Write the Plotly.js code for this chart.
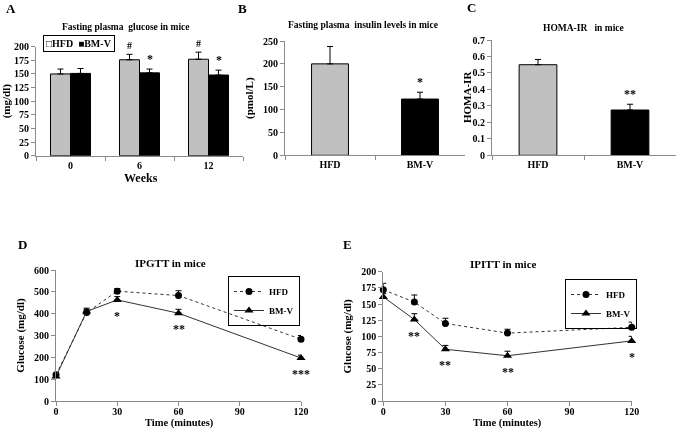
<!DOCTYPE html>
<html>
<head>
<meta charset="utf-8">
<script src="https://cdn.plot.ly/plotly-3.0.1.min.js"></script>
<style>html,body{margin:0;padding:0;background:#fff;}#chart{width:685px;height:431px;will-change:transform;}</style>
</head>
<body>
<div id="chart"></div>
<script>
// ---- Data ----
const weeks = ['0', '6', '12'];
const glucoseHFD = [150, 176, 177];
const glucoseHFDErr = [9, 10, 13];
const glucoseBMV = [151, 152, 148];
const glucoseBMVErr = [9, 7, 9];
const sigGlucoseHFD = ['', '#', '#'];
const sigGlucoseBMV = ['', '*', '*'];

const groups = ['HFD', 'BM-V'];
const insulin = [200, 123];
const insulinErr = [38, 15];
const sigInsulin = ['', '*'];

const homa = [0.55, 0.275];
const homaErr = [0.032, 0.035];
const sigHoma = ['', '**'];

const timeMin = [0, 15, 30, 60, 120];
const ipgttHFD = [120, 405, 503, 483, 283];
const ipgttHFDErr = [10, 15, 12, 22, 17];
const ipgttBMV = [112, 410, 463, 402, 197];
const ipgttBMVErr = [10, 15, 15, 18, 13];
const sigIpgtt = ['', '', '*', '**', '***'];

const ipittHFD = [172, 153, 120, 105, 114];
const ipittHFDErr = [10, 11, 8, 6, 8];
const ipittBMV = [161, 126, 80, 70, 93];
const ipittBMVErr = [5, 9, 6, 7, 7];
const sigIpitt = ['', '**', '**', '**', '*'];

// ---- Helpers ----
const W = 685, H = 431;
const px = x => x / W;
const py = y => 1 - y / H;
const SERIF = 'Liberation Serif, Times New Roman, serif';
const f = (size) => ({family: SERIF, size: size, weight: 'bold', color: '#000'});
const AXC = '#8a8a8a';
const zeros = a => a.map(() => 0);

function errY(arr) {
  return {type: 'data', symmetric: false, array: arr, arrayminus: zeros(arr), color: '#000', thickness: 1, width: 3};
}

const traces = [
  // A
  {type: 'bar', x: weeks, y: glucoseHFD, name: 'HFD', xaxis: 'x', yaxis: 'y', showlegend: false,
   marker: {color: '#c0c0c0', line: {color: '#000', width: 1}}, error_y: errY(glucoseHFDErr)},
  {type: 'bar', x: weeks, y: glucoseBMV, name: 'BM-V', xaxis: 'x', yaxis: 'y', showlegend: false,
   marker: {color: '#000', line: {color: '#000', width: 1}}, error_y: errY(glucoseBMVErr)},
  // B
  {type: 'bar', x: groups, y: insulin, xaxis: 'x2', yaxis: 'y2', showlegend: false, width: 0.41,
   marker: {color: ['#c0c0c0', '#000'], line: {color: '#000', width: 1}}, error_y: errY(insulinErr)},
  // C
  {type: 'bar', x: groups, y: homa, xaxis: 'x3', yaxis: 'y3', showlegend: false, width: 0.41,
   marker: {color: ['#c0c0c0', '#000'], line: {color: '#000', width: 1}}, error_y: errY(homaErr)},
  // D
  {type: 'scatter', mode: 'lines+markers', x: timeMin, y: ipgttHFD, name: 'HFD', xaxis: 'x4', yaxis: 'y4',
   legend: 'legend', line: {color: '#333', width: 1, dash: '3px,3px'}, marker: {symbol: 'circle', size: 7, color: '#000'},
   error_y: errY(ipgttHFDErr), cliponaxis: false},
  {type: 'scatter', mode: 'lines+markers', x: timeMin, y: ipgttBMV, name: 'BM-V', xaxis: 'x4', yaxis: 'y4',
   legend: 'legend', line: {color: '#333', width: 1}, marker: {symbol: 'triangle-up', size: 8, color: '#000'},
   error_y: errY(ipgttBMVErr), cliponaxis: false},
  // E
  {type: 'scatter', mode: 'lines+markers', x: timeMin, y: ipittHFD, name: 'HFD', xaxis: 'x5', yaxis: 'y5',
   legend: 'legend2', line: {color: '#333', width: 1, dash: '3px,3px'}, marker: {symbol: 'circle', size: 7, color: '#000'},
   error_y: errY(ipittHFDErr), cliponaxis: false},
  {type: 'scatter', mode: 'lines+markers', x: timeMin, y: ipittBMV, name: 'BM-V', xaxis: 'x5', yaxis: 'y5',
   legend: 'legend2', line: {color: '#333', width: 1}, marker: {symbol: 'triangle-up', size: 8, color: '#000'},
   error_y: errY(ipittBMVErr), cliponaxis: false}
];

function ax(domain, anchor, extra) {
  return Object.assign({domain: domain, anchor: anchor, showline: true, linecolor: AXC, linewidth: 1,
    ticks: 'outside', ticklen: 4, tickcolor: AXC, showgrid: false, zeroline: false, tickfont: f(10),
    tickangle: 0, fixedrange: true}, extra);
}

const annotations = [];
function note(text, x, y, size, extra) {
  annotations.push(Object.assign({text: text, x: px(x), y: py(y), xref: 'paper', yref: 'paper',
    showarrow: false, font: f(size), xanchor: 'center', yanchor: 'middle'}, extra || {}));
}
// panel letters
note('A', 11, 8, 13); note('B', 242, 8, 13); note('C', 471, 7, 13); note('D', 22, 244, 13); note('E', 348, 244, 13);
// panel titles
note('Fasting plasma  glucose in mice', 125, 27, 9.5);
note('Fasting plasma  insulin levels in mice', 363, 25, 9.5);
note('HOMA-IR   in mice', 583, 28, 9.5);
note('IPGTT in mice', 170, 263, 11);
note('IPITT in mice', 503, 264, 11);
// legend of panel A
note('\u25A1HFD  \u25A0BM-V', 78.5, 44, 10, {bordercolor: '#000', borderwidth: 1, borderpad: 2});
// axis titles placed as in the source figure
note('Weeks', 141, 178, 12);
note('HOMA-IR', 467, 97, 11, {textangle: -90});
note('Time (minutes)', 179, 431, 10.5, {yanchor: 'bottom'});
note('Time (minutes)', 507, 431, 10.5, {yanchor: 'bottom'});

// significance marks (category axes use the category index)
function sig(labels, ys, errs, xref, yref, xshift, size) {
  labels.forEach((t, i) => {
    if (!t) return;
    annotations.push({text: t, x: i, y: ys[i] + errs[i], xref: xref, yref: yref, showarrow: false,
      xshift: xshift, yshift: 1, yanchor: 'bottom', font: f(size)});
  });
}
sig(sigGlucoseHFD, glucoseHFD, glucoseHFDErr, 'x', 'y', -10, 10);
sig(sigGlucoseBMV, glucoseBMV, glucoseBMVErr, 'x', 'y', 10, 12);
sig(sigInsulin, insulin, insulinErr, 'x2', 'y2', 0, 12);
sig(sigHoma, homa, homaErr, 'x3', 'y3', 0, 12);
function sigBelow(labels, xs, ys, xref, yref) {
  labels.forEach((t, i) => {
    if (!t) return;
    annotations.push({text: t, x: xs[i], y: ys[i], xref: xref, yref: yref, showarrow: false,
      yanchor: 'top', yshift: -7, font: f(12)});
  });
}
sigBelow(sigIpgtt, timeMin, ipgttBMV, 'x4', 'y4');
sigBelow(sigIpitt, timeMin, ipittBMV, 'x5', 'y5');

const legendStyle = {bordercolor: '#000', borderwidth: 1, bgcolor: 'rgba(255,255,255,0)', font: f(9), itemwidth: 30,
  xanchor: 'right', yanchor: 'top', tracegroupgap: 0};

const layout = {
  width: W, height: H,
  margin: {l: 0, r: 0, t: 0, b: 0},
  paper_bgcolor: '#fff', plot_bgcolor: 'rgba(0,0,0,0)',
  barmode: 'group', bargap: 0.42, bargroupgap: 0,
  font: f(10),
  xaxis: ax([px(36), px(243)], 'y', {type: 'category', tickson: 'boundaries'}),
  yaxis: ax([py(155.7), py(46.7)], 'x', {range: [0, 200], dtick: 25,
    title: {text: '(mg/dl)', font: f(11)}}),
  xaxis2: ax([px(285), px(465)], 'y2', {type: 'category', tickson: 'boundaries'}),
  yaxis2: ax([py(155.3), py(41)], 'x2', {range: [0, 250], dtick: 50,
    title: {text: '(pmol/L)', font: f(11)}}),
  xaxis3: ax([px(492), px(676)], 'y3', {type: 'category', tickson: 'boundaries'}),
  yaxis3: ax([py(155.3), py(40)], 'x3', {range: [0, 0.7], dtick: 0.1}),
  xaxis4: ax([px(56), px(301)], 'y4', {range: [0, 120], dtick: 30, ticklabelstandoff: -3}),
  yaxis4: ax([py(401), py(270)], 'x4', {range: [0, 600], dtick: 100,
    title: {text: 'Glucose (mg/dl)', font: f(11)}}),
  xaxis5: ax([px(383.3), px(631.7)], 'y5', {range: [0, 120], dtick: 30, ticklabelstandoff: -3}),
  yaxis5: ax([py(401), py(271.7)], 'x5', {range: [0, 200], dtick: 25,
    title: {text: 'Glucose (mg/dl)', font: f(11)}}),
  legend: Object.assign({x: px(300), y: py(276)}, legendStyle),
  legend2: Object.assign({x: px(637), y: py(279)}, legendStyle),
  annotations: annotations
};

Plotly.newPlot('chart', traces, layout, {staticPlot: true, displayModeBar: false});
</script>
</body>
</html>
